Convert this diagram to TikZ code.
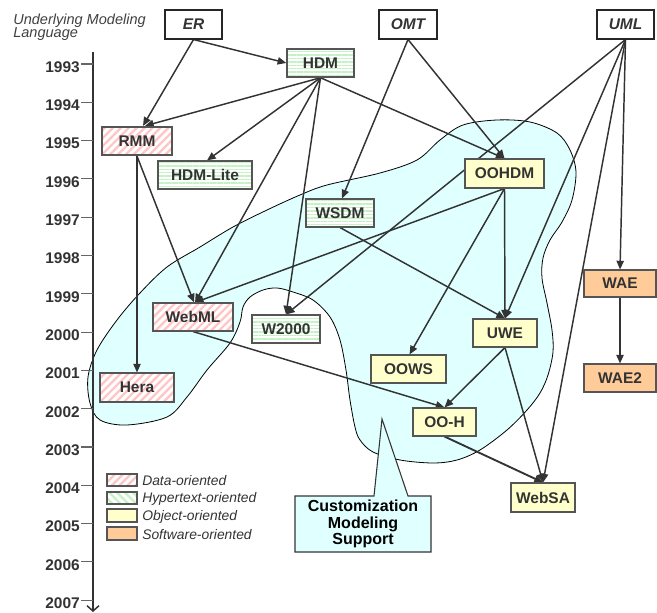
\documentclass[tikz,border=0pt]{standalone}
\usepackage{fontspec}
\setmainfont{Liberation Sans}
\usetikzlibrary{arrows.meta,patterns.meta,calc}
\definecolor{txt}{HTML}{333333}
\definecolor{bord}{HTML}{555555}
\definecolor{cyanbg}{HTML}{E0FFFF}
\definecolor{yel}{HTML}{FFFFCC}
\definecolor{ora}{HTML}{FFCC99}
\definecolor{pinkl}{HTML}{FFC4C4}
\definecolor{greenl}{HTML}{C4F2C4}
\pgfdeclarelayer{blobl}
\pgfdeclarelayer{edgel}
\pgfsetlayers{blobl,edgel,main}
\begin{document}
\begin{tikzpicture}[x=0.75pt,y=-0.75pt,
  box/.style={draw=bord, line width=0.8pt, inner sep=0pt, text=txt,
    font=\fontsize{11.6}{12}\selectfont\bfseries},
  sz/.style 2 args={minimum width=#1*0.75pt, minimum height=#2*0.75pt},
  lang/.style={box, fill=white, draw=black!85,
    font=\fontsize{11.6}{12}\selectfont\bfseries\itshape},
  data/.style={box, preaction={fill=white},
    pattern={Lines[angle=45,distance=4.2pt,line width=1.7pt]}, pattern color=pinkl},
  hyper/.style={box, preaction={fill=white},
    pattern={Lines[angle=0,distance=2.6pt,line width=1.1pt]}, pattern color=greenl},
  hyperleg/.style={box, preaction={fill=white},
    pattern={Lines[angle=-45,distance=4.2pt,line width=1.7pt]}, pattern color=greenl},
  obj/.style={box, fill=yel},
  soft/.style={box, fill=ora},
  arr/.style={draw=txt, line width=1.1pt, -{Triangle[length=6.5pt,width=5.5pt]}},
  yearlbl/.style={anchor=east, inner sep=0pt, text=txt,
    font=\fontsize{11.6}{12}\selectfont\bfseries},
  legtxt/.style={anchor=west, inner sep=0pt, text=txt,
    font=\fontsize{10.4}{12}\selectfont\itshape},
  tickln/.style={draw=black!60, line width=0.8pt},
]
\useasboundingbox (0,0) rectangle (657,613);

% ---- heading
\node[anchor=north west, align=left, inner sep=0pt, text=black!75,
  font=\fontsize{10.9}{9.8}\selectfont\itshape] (head) at (13,14)
  {Underlying Modeling\\Language};

% ---- time axis
\coordinate (axtop) at (93,52);
\coordinate (axbot) at (93,612);
\draw[draw=txt, line width=1.1pt, -{Straight Barb[length=4pt,width=9pt]}] (axtop) -- (axbot);
\foreach \yr [count=\i from 0] in {1993,...,2007} {
  \draw[tickln] (81,{64+38.3*\i}) -- (93,{64+38.3*\i});
  \node[yearlbl] (y\yr) at (80,{67+38.3*\i}) {\yr};
}

% ---- customization blob
\begin{pgfonlayer}{blobl}
\draw[fill=cyanbg, draw=black, line width=0.6pt] plot[smooth cycle, tension=0.55] coordinates {
 (127,425) (100,420) (90,403) (88,377) (97,350) (117,320) (140,293) (167,267)
 (200,247) (233,227) (267,210) (300,195) (327,185) (380,173) (417,160) (440,140)
 (463,125) (497,120) (530,122) (557,133) (570,150) (576,172) (572,200) (562,222)
 (550,240) (543,258) (542,278) (547,303) (552,330) (553,352) (548,375) (540,393)
 (527,410) (507,430) (480,450) (457,460) (433,463) (400,460) (373,452) (360,440)
 (355,427) (350,400) (346,370) (340,340) (330,317) (313,300) (293,292) (277,288)
 (263,290) (250,297) (243,307) (240,322) (230,343) (207,370) (187,397) (167,417)};
\end{pgfonlayer}

% ---- callout
\draw[fill=cyanbg, draw=black!80, line width=0.8pt]
  (295,496) -- (374,496) -- (382,419) -- (408,496) -- (431,496) -- (431,552) -- (295,552) -- cycle;
\node[align=center, inner sep=0pt, text=black,
  font=\fontsize{12}{12.6}\selectfont\bfseries] (cms) at (363,524)
  {Customization\\Modeling\\Support};

% ---- nodes
\node[lang, sz={57}{29}] (er)  at (193.5,24.5) {ER};
\node[lang, sz={58}{29}] (omt) at (408,24.5) {OMT};
\node[lang, sz={57}{29}] (uml) at (625.5,24.5) {UML};

\node[hyper, sz={67}{28}] (hdm)     at (320.5,63) {HDM};
\node[data,  sz={70}{28}] (rmm)     at (137,141) {RMM};
\node[hyper, sz={94}{28}] (hdmlite) at (205,175) {HDM-Lite};
\node[hyper, sz={68}{28}] (wsdm)    at (340,213) {WSDM};
\node[obj,   sz={79}{29}] (oohdm)   at (504.5,173.5) {OOHDM};
\node[data,  sz={80}{28}] (webml)   at (193,317) {WebML};
\node[hyper, sz={68}{28}] (w2000)   at (286,329) {W2000};
\node[data,  sz={74}{29}] (hera)    at (137,387.5) {Hera};
\node[obj,   sz={64}{28}] (uwe)     at (505,333) {UWE};
\node[obj,   sz={75}{28}] (oows)    at (408.5,369) {OOWS};
\node[obj,   sz={63}{28}] (ooh)     at (444.5,422) {OO-H};
\node[obj,   sz={64}{29}] (websa)   at (543,497.5) {WebSA};
\node[soft,  sz={72}{27}] (wae)     at (620,283.5) {WAE};
\node[soft,  sz={72}{28}] (wae2)    at (620,378) {WAE2};

% ---- edges
\begin{pgfonlayer}{edgel}
\draw[arr] (er.south) -- (hdm.west);
\draw[arr] (er.south) -- ($(rmm.north)+(6,0)$);
\draw[arr] (hdm.south) -- ($(rmm.north)+(8,0)$);
\draw[arr] (hdm.south) -- ($(hdmlite.north)+(2,0)$);
\draw[arr] (hdm.south) -- ($(webml.north)+(2,0)$);
\draw[arr] (hdm.south) -- (w2000.north);
\draw[arr] (hdm.south) -- (oohdm.north);
\draw[arr] (omt.south) -- ($(wsdm.north)+(2,0)$);
\draw[arr] (omt.south) -- (oohdm.north);
\draw[arr] (uml.south) -- (w2000.north);
\draw[arr] (uml.south) -- (uwe.north);
\draw[arr] (uml.south) -- (websa.north);
\draw[arr] (uml.south) -- (wae.north);
\draw[arr] (rmm.south) -- (hera.north);
\draw[arr] (rmm.south) -- ($(webml.north)+(1,0)$);
\draw[arr] (oohdm.south) -- ($(webml.north)+(2,0)$);
\draw[arr] (oohdm.south) -- ($(oows.north)+(1,0)$);
\draw[arr] (oohdm.south) -- (uwe.north);
\draw[arr] (wsdm.south) -- (uwe.north);
\draw[arr] (webml.south) -- (ooh.north);
\draw[arr] (uwe.south) -- (ooh.north);
\draw[arr] (uwe.south) -- (websa.north);
\draw[arr, line width=1.4pt] (ooh.south) -- (websa.north);
\draw[arr] (wae.south) -- (wae2.north);
\end{pgfonlayer}

% ---- legend
\node[data,     sz={30}{12}] (lg1) at (122,480) {};
\node[hyperleg, sz={30}{12}] (lg2) at (122,498) {};
\node[obj,      sz={30}{13}] (lg3) at (122,515.5) {};
\node[soft,     sz={30}{13}] (lg4) at (122,533.5) {};
\node[legtxt] (lt1) at (142,481) {Data-oriented};
\node[legtxt] (lt2) at (142,499) {Hypertext-oriented};
\node[legtxt] (lt3) at (142,516.5) {Object-oriented};
\node[legtxt] (lt4) at (142,534.5) {Software-oriented};
\end{tikzpicture}
\end{document}
